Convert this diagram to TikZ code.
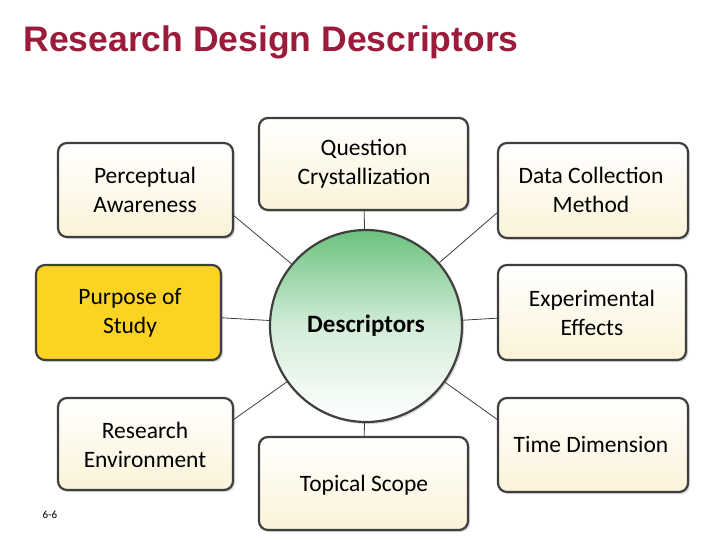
\documentclass[tikz,border=0pt]{standalone}
\usepackage{fontspec}
\setmainfont{Carlito}
\newfontfamily\titlefont{Liberation Sans}
\usetikzlibrary{shadows}
\definecolor{titlered}{HTML}{9B1B3A}
\definecolor{bordergray}{HTML}{3F3F3F}
\definecolor{cream}{HTML}{FBF3D8}
\definecolor{yel}{HTML}{FAD323}
\definecolor{grn}{HTML}{6CC17E}
\begin{document}
\begin{tikzpicture}[x=1pt,y=-1pt,
  box/.style={draw=bordergray,line width=2.2pt,rounded corners=9pt,top color=white,bottom color=cream,
     drop shadow={shadow xshift=2pt,shadow yshift=-2pt,fill=gray!60}},
  lbl/.style={font=\fontsize{23.5}{28.5}\selectfont,align=center},
  conn/.style={draw=bordergray,line width=0.8pt}]
\useasboundingbox (0,0) rectangle (720,540);
\node[anchor=west,font=\titlefont\bfseries\fontsize{35.5}{40}\selectfont,text=titlered] (title) at (20,42) {Research Design Descriptors};
\node[box,minimum width=175pt,minimum height=94pt] (pa) at (145.5,190) {};
\node[lbl] (pat) at (145,190) {Perceptual\\Awareness};
\node[box,minimum width=209pt,minimum height=92pt] (qc) at (363.5,164) {};
\node[lbl] (qct) at (364,164) {Question\\Crystallization};
\node[box,minimum width=190pt,minimum height=95pt] (dc) at (593,190.5) {};
\node[lbl] (dct) at (591,190) {Data Collection\\Method};
\node[box,minimum width=185pt,minimum height=95pt,top color=yel,bottom color=yel] (ps) at (128.5,312.5) {};
\node[lbl] (pst) at (130,313) {Purpose of\\Study};
\node[box,minimum width=188pt,minimum height=95pt] (ee) at (592,312.5) {};
\node[lbl] (eet) at (592,313) {Experimental\\Effects};
\node[box,minimum width=175pt,minimum height=92pt] (re) at (145.5,444) {};
\node[lbl] (ret) at (145,445) {Research\\Environment};
\node[box,minimum width=209pt,minimum height=93pt] (ts) at (363.5,483.5) {};
\node[lbl] (tst) at (364,485) {Topical Scope};
\node[box,minimum width=190pt,minimum height=94pt] (td) at (593,445) {};
\node[lbl] (tdt) at (591,444) {Time Dimension};
\node[circle,draw=bordergray,line width=2.2pt,minimum size=192pt,top color=grn,bottom color=white,middle color=grn!30,
  drop shadow={shadow xshift=2pt,shadow yshift=-2pt,fill=gray!60},font=\bfseries\fontsize{25}{30}\selectfont] (d) at (366,326) {Descriptors};
\path[conn] (233,215) -- (d);
\path[conn] (qc) -- (d);
\path[conn] (498,212) -- (d);
\path[conn] (ps) -- (d);
\path[conn] (ee) -- (d);
\path[conn] (233,420) -- (d);
\path[conn] (ts) -- (d);
\path[conn] (498,420) -- (d);
\node[font=\fontsize{11}{12}\selectfont] (num) at (50,515) {6-6};
\end{tikzpicture}
\end{document}
